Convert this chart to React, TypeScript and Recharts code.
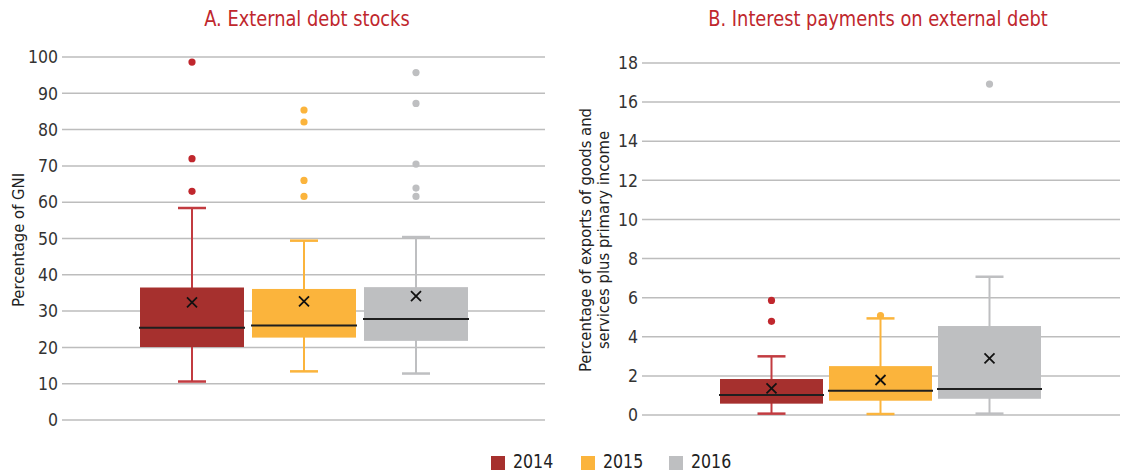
import { ComposedChart, Bar, XAxis, YAxis, CartesianGrid } from 'recharts';

const FONT = '"Liberation Sans Narrow", "DejaVu Sans Condensed", "Arial Narrow", sans-serif';

const years = ['2014', '2015', '2016'];
const boxColors = ['#A6302E', '#FBB43C', '#BEBFC1'];
const lineColors = ['#C23B40', '#FBB43C', '#BEBFC1'];
const dotColors = ['#C0272D', '#FBB43C', '#BEBFC1'];

// A. External debt stocks (percentage of GNI)
const minA = [10.6, 13.4, 12.8];
const q1A = [20.1, 22.7, 21.8];
const medA = [25.4, 26.0, 27.8];
const q3A = [36.5, 36.1, 36.6];
const maxA = [58.4, 49.4, 50.4];
const meanA = [32.4, 32.7, 34.1];
const outA = [
  [98.6, 72.0, 63.0],
  [85.4, 82.1, 66.0, 61.6],
  [95.7, 87.2, 70.5, 63.9, 61.6],
];
const ticksA = [0, 10, 20, 30, 40, 50, 60, 70, 80, 90, 100];

// B. Interest payments on external debt (percentage of exports of goods and services plus primary income)
const minB = [0.07, 0.05, 0.07];
const q1B = [0.58, 0.73, 0.83];
const medB = [1.02, 1.24, 1.33];
const q3B = [1.84, 2.5, 4.55];
const maxB = [3.0, 4.94, 7.07];
const meanB = [1.36, 1.79, 2.9];
const outB = [[5.86, 4.79], [5.08], [16.92]];
const ticksB = [0, 2, 4, 6, 8, 10, 12, 14, 16, 18];

type Stats = {
  min: number[];
  q1: number[];
  med: number[];
  q3: number[];
  max: number[];
  mean: number[];
  out: number[][];
};

const statsA: Stats = { min: minA, q1: q1A, med: medA, q3: q3A, max: maxA, mean: meanA, out: outA };
const statsB: Stats = { min: minB, q1: q1B, med: medB, q3: q3B, max: maxB, mean: meanB, out: outB };

// one category row, each year is a range bar [lower whisker, upper whisker]
const buildRow = (s: Stats) => {
  const row: any = { name: 'all' };
  years.forEach((y, i) => {
    row[y] = [s.min[i], s.max[i]];
  });
  return row;
};

const makeBox = (s: Stats, i: number) => (props: any) => {
  const { x, y, width, height } = props;
  if (x == null || y == null) return <g />;
  const top = Math.min(y, y + height);
  const h = Math.abs(height);
  const lo = s.min[i];
  const hi = s.max[i];
  // same linear mapping as the y scale, anchored on the bar's own ends
  const py = (v: number) => top + ((hi - v) / (hi - lo)) * h;
  const cx = x + width / 2;
  const cap = 14;
  const m = 5;
  return (
    <g>
      <line x1={cx} x2={cx} y1={py(hi)} y2={py(lo)} stroke={lineColors[i]} strokeWidth={2} />
      <line x1={cx - cap} x2={cx + cap} y1={py(hi)} y2={py(hi)} stroke={lineColors[i]} strokeWidth={2.5} />
      <line x1={cx - cap} x2={cx + cap} y1={py(lo)} y2={py(lo)} stroke={lineColors[i]} strokeWidth={2.5} />
      <rect x={x} y={py(s.q3[i])} width={width} height={py(s.q1[i]) - py(s.q3[i])} fill={boxColors[i]} />
      <line x1={x - 1} x2={x + width + 1} y1={py(s.med[i])} y2={py(s.med[i])} stroke="#1f1f1f" strokeWidth={2} />
      <line x1={cx - m} x2={cx + m} y1={py(s.mean[i]) - m} y2={py(s.mean[i]) + m} stroke="#111" strokeWidth={1.8} />
      <line x1={cx - m} x2={cx + m} y1={py(s.mean[i]) + m} y2={py(s.mean[i]) - m} stroke="#111" strokeWidth={1.8} />
      {s.out[i].map((v, k) => (
        <circle key={k} cx={cx} cy={py(v)} r={3.6} fill={dotColors[i]} />
      ))}
    </g>
  );
};

const tickStyle = { fill: '#333', fontSize: 17.5, fontFamily: FONT };

function Panel({
  stats,
  ticks,
  yMax,
  width,
  axisWidth,
  margin,
  gap,
  barGap,
  labelLines,
  labelX,
}: any) {
  return (
    <ComposedChart
      width={width}
      height={474}
      data={[buildRow(stats)]}
      margin={margin}
      barCategoryGap={gap}
      barGap={barGap}
    >
      <CartesianGrid vertical={false} stroke="#BDBDBD" strokeWidth={1.5} />
      <XAxis dataKey="name" hide />
      <YAxis
        domain={[0, yMax]}
        ticks={ticks}
        width={axisWidth}
        axisLine={false}
        tickLine={false}
        tickSize={2}
        tickMargin={2}
        tick={tickStyle}
        interval={0}
        label={{
          content: () => (
            <g>
              {labelLines.map((t: string, k: number) => (
                <text
                  key={k}
                  x={labelX[k]}
                  y={240}
                  transform={`rotate(-90 ${labelX[k]} 240)`}
                  textAnchor="middle"
                  dominantBaseline="central"
                  fill="#222"
                  fontSize={16.5}
                  fontFamily={FONT}
                >
                  {t}
                </text>
              ))}
            </g>
          ),
        }}
      />
      {years.map((y, i) => (
        <Bar key={y} dataKey={y} fill={boxColors[i]} isAnimationActive={false} shape={makeBox(stats, i)} />
      ))}
    </ComposedChart>
  );
}

const titleStyle: any = {
  position: 'absolute',
  top: 6,
  transform: 'translateX(-50%) scaleX(0.9)',
  whiteSpace: 'nowrap',
  color: '#C0272D',
  fontSize: 22,
  lineHeight: '26px',
};

const legendX = [491, 581, 669];

export default function App() {
  return (
    <div
      style={{
        position: 'absolute',
        left: 0,
        top: 0,
        width: 1123,
        height: 474,
        background: '#fff',
        fontFamily: FONT,
        overflow: 'hidden',
      }}
    >
      <div style={{ ...titleStyle, left: 307 }}>A. External debt stocks</div>
      <div style={{ ...titleStyle, left: 878 }}>B. Interest payments on external debt</div>
      <div style={{ position: 'absolute', left: 0, top: 0 }}>
        <Panel
          stats={statsA}
          ticks={ticksA}
          yMax={100}
          width={560}
          axisWidth={60}
          margin={{ top: 57, right: 15, bottom: 54, left: 2 }}
          gap={78}
          barGap={8}
          labelLines={['Percentage of GNI']}
          labelX={[18]}
        />
      </div>
      <div style={{ position: 'absolute', left: 570, top: 0 }}>
        <Panel
          stats={statsB}
          ticks={ticksB}
          yMax={18}
          width={553}
          axisWidth={72}
          margin={{ top: 63, right: 3, bottom: 59, left: 0 }}
          gap={78}
          barGap={6}
          labelLines={['Percentage of exports of goods and', 'services plus primary income']}
          labelX={[15, 33]}
        />
      </div>
      {years.map((y, i) => (
        <div key={y}>
          <span
            style={{ position: 'absolute', left: legendX[i], top: 456, width: 14, height: 14, background: boxColors[i] }}
          />
          <span
            style={{
              position: 'absolute',
              left: legendX[i] + 22,
              top: 453,
              fontSize: 19.5,
              lineHeight: '18px',
              color: '#222',
              transform: 'scaleX(0.9)',
              transformOrigin: 'left center',
            }}
          >
            {y}
          </span>
        </div>
      ))}
    </div>
  );
}
